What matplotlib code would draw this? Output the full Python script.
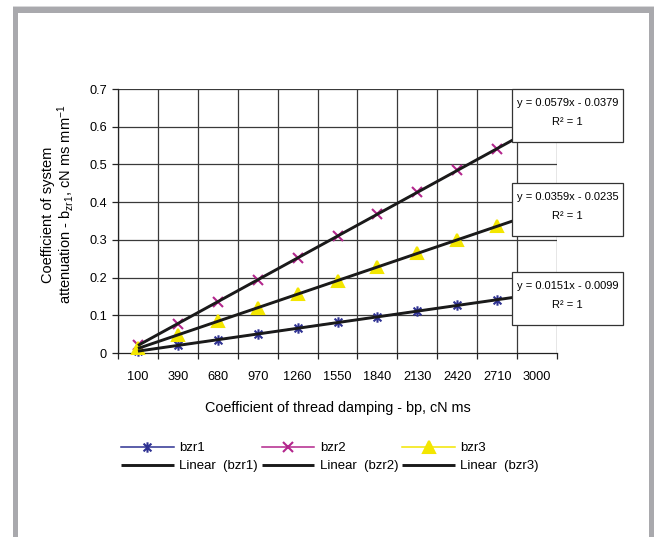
import numpy as np
import matplotlib
matplotlib.use("Agg")
import matplotlib.pyplot as plt
from matplotlib.path import Path
from matplotlib.patches import Rectangle

plt.rcParams['font.family'] = ['Liberation Sans', 'DejaVu Sans']
plt.rcParams['mathtext.default'] = 'regular'

categories = ['100', '390', '680', '970', '1260', '1550', '1840', '2130', '2420', '2710', '3000']
bzr1 = [0.005, 0.020, 0.035, 0.050, 0.066, 0.081, 0.096, 0.111, 0.126, 0.141]
bzr2 = [0.020, 0.078, 0.136, 0.194, 0.252, 0.310, 0.368, 0.426, 0.484, 0.542]
bzr3 = [0.012, 0.048, 0.084, 0.120, 0.156, 0.192, 0.228, 0.264, 0.300, 0.336]
equations = ['y = 0.0151x - 0.0099', 'y = 0.0579x - 0.0379', 'y = 0.0359x - 0.0235']
r2_labels = ['R\u00b2 = 1', 'R\u00b2 = 1', 'R\u00b2 = 1']
series_names = ['bzr1', 'bzr2', 'bzr3']

W, H = 654, 537
fig = plt.figure(figsize=(W / 100, H / 100), dpi=100)
fig.patch.set_facecolor('white')

def fx(px):
    return px / W

def fy(py):
    return 1 - py / H

# outer gray frame
frame_col = '#a9a9ad'
fig.add_artist(Rectangle((fx(13), fy(12.5)), fx(654 - 13), 5.5 / H, transform=fig.transFigure,
                         facecolor=frame_col, edgecolor='none'))
fig.add_artist(Rectangle((fx(13), 0), fx(4.5), fy(7), transform=fig.transFigure,
                         facecolor=frame_col, edgecolor='none'))
fig.add_artist(Rectangle((fx(649), 0), fx(5), fy(7), transform=fig.transFigure,
                         facecolor=frame_col, edgecolor='none'))
fig.add_artist(Rectangle((fx(13), fy(7)), fx(654 - 13), 1 / H, transform=fig.transFigure,
                         facecolor='#d8d8da', edgecolor='none'))

ax = fig.add_axes([fx(118), fy(353), fx(557 - 118), (353 - 89) / H])
ncat = len(categories)
ax.set_xlim(0.5, ncat + 0.5)
ax.set_ylim(0, 0.7)

grid_col = '#3a3a3a'
for b in np.arange(0.5, ncat + 1.0, 1.0):
    ax.axvline(b, color=grid_col, lw=0.9, zorder=1)
for yv in np.arange(0.1, 0.71, 0.1):
    ax.axhline(yv, color=grid_col, lw=0.9, zorder=1)

for s in ['top', 'right']:
    ax.spines[s].set_visible(False)
for s in ['left', 'bottom']:
    ax.spines[s].set_color('#222222')
    ax.spines[s].set_linewidth(0.9)

tick_fs = 9.2
ax.set_xticks(np.arange(0.5, ncat + 1.0, 1.0))
ax.set_xticklabels([])
ax.set_xticks(np.arange(1, ncat + 1), minor=True)
ax.set_xticklabels(categories, minor=True)
ax.tick_params(axis='x', which='major', direction='out', length=4, width=0.9, color='#222222')
ax.tick_params(axis='x', which='minor', length=0, pad=13, labelsize=tick_fs)
yt = np.round(np.arange(0, 0.71, 0.1), 1)
ax.set_yticks(yt)
ax.set_yticklabels(['0'] + ['%.1f' % v for v in yt[1:]])
ax.tick_params(axis='y', direction='out', length=4, width=0.9, color='#222222',
               labelsize=tick_fs, pad=4)

# star marker (asterisk with vertical bar)
d = 0.75
star = Path([(0, -1), (0, 1), (-d, -d), (d, d), (-d, d), (d, -d)],
            [Path.MOVETO, Path.LINETO, Path.MOVETO, Path.LINETO, Path.MOVETO, Path.LINETO])

colors = ['#2e3192', '#b3268c', '#f3e600']
markers = [star, 'x', '^']
msizes = [7.5, 6.5, 8]
data = [bzr1, bzr2, bzr3]

handles_data = []
handles_trend = []
for vals, c, m, ms, name in zip(data, colors, markers, msizes, series_names):
    xs = np.arange(1, len(vals) + 1)
    h, = ax.plot(xs, vals, color=c, lw=1.1, marker=m, markersize=ms,
                 markeredgewidth=1.5, markerfacecolor=c, markeredgecolor=c,
                 zorder=3, clip_on=False, label=name)
    handles_data.append(h)
    k, b0 = np.polyfit(xs, vals, 1)
    xt = np.array([1, ncat])
    ht, = ax.plot(xt, k * xt + b0, color='#1a1a1a', lw=2.1, zorder=4,
                  solid_capstyle='butt', label='Linear  (%s)' % name)
    handles_trend.append(ht)

# equation boxes (figure pixel coordinates, covering trendline ends)
box_tops = [272, 89, 183]
for eq, r2, top in zip(equations, r2_labels, box_tops):
    bx0, bx1 = 512, 623
    bh = 53
    fig.add_artist(Rectangle((fx(bx0), fy(top + bh)), fx(bx1 - bx0), bh / H,
                             transform=fig.transFigure, facecolor='white',
                             edgecolor='#333333', lw=0.9, zorder=10))
    cx = fx((bx0 + bx1) / 2)
    fig.text(cx, fy(top + 14), eq, ha='center', va='center', fontsize=8, zorder=11)
    fig.text(cx, fy(top + 33), r2, ha='center', va='center', fontsize=8, zorder=11)

# axis labels
fig.text(fx(337.5), fy(408), 'Coefficient of thread damping - bp, cN ms',
         ha='center', va='center', fontsize=10.4)
fig.text(fx(48), fy(215), 'Coefficient of system',
         ha='center', va='center', rotation=90, fontsize=10.5)
fig.text(fx(65), fy(204), 'attenuation - b$_{zr1}$, cN ms mm$^{-1}$',
         ha='center', va='center', rotation=90, fontsize=10.5)

# legend
hl = []
for hd, ht in zip(handles_data, handles_trend):
    hl += [hd, ht]
leg = fig.legend(handles=hl, labels=[h.get_label() for h in hl], ncol=3,
                 loc='upper left', bbox_to_anchor=(fx(121), fy(442)),
                 frameon=False, fontsize=9.5, handlelength=4.0, handletextpad=0.4,
                 columnspacing=0.3, labelspacing=0.45, borderpad=0, borderaxespad=0,
                 markerscale=1.0)

fig.savefig('out.png', dpi=100)
